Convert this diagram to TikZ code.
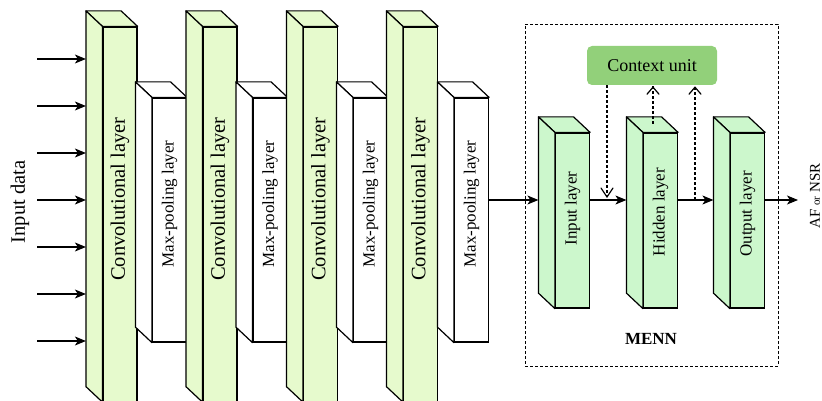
\documentclass[tikz,border=0pt]{standalone}
\usepackage{fontspec}
\setmainfont{Liberation Serif}
\usepackage{graphicx}
\usetikzlibrary{arrows.meta}
\definecolor{convgreen}{HTML}{E6FACD}
\definecolor{laygreen}{HTML}{CCF7CC}
\definecolor{ctxgreen}{HTML}{92D07A}
\tikzset{
  face/.style={draw=black, line width=1.2pt, inner sep=0pt, minimum width=34pt},
  convface/.style={face, fill=convgreen, minimum height=374.5pt},
  poolface/.style={face, fill=white, minimum height=244pt},
  layface/.style={face, fill=laygreen, minimum height=175pt},
  side/.style={draw=black, line width=1.2pt, line join=round},
  vtext/.style={rotate=90, inner sep=0pt},
  convtext/.style={vtext, font=\fontsize{20.5}{24}\selectfont},
  pooltext/.style={vtext, font=\fontsize{17}{20}\selectfont},
  laytext/.style={vtext, font=\fontsize{17}{20}\selectfont},
  arr/.style={line width=1.1pt, -{Stealth[length=11pt,width=9pt,inset=3pt]}},
  dline/.style={line width=1.2pt, dash pattern=on 3pt off 2pt},
  barb/.style={line width=1.2pt, solid, line cap=round, line join=miter},
}
\newcommand{\boxsides}[2]{%
  \filldraw[side, fill=#2] (#1.north west) -- ([shift={(-16.5,-15.5)}]#1.north west) -- ([shift={(-16.5,-15.5)}]#1.north east) -- (#1.north east) -- cycle;
  \filldraw[side, fill=#2] (#1.north west) -- ([shift={(-16.5,-15.5)}]#1.north west) -- ([shift={(-16.5,-15.5)}]#1.south west) -- (#1.south west) -- cycle;
  \coordinate (#1back) at ([xshift=-16.5pt]#1.west);
}
\begin{document}
\begin{tikzpicture}[x=1pt,y=-1pt]
\useasboundingbox (0,0) rectangle (822,401);
% CNN part
\node[convface] (c1) at (120,214.25) {};
\boxsides{c1}{convgreen}
\node[convtext] (ct1) at (120,199) {Convolutional layer};
\node[poolface] (p1) at (169.5,220) {};
\boxsides{p1}{white}
\node[pooltext] (pt1) at (169.5,204) {Max-pooling layer};
\node[convface] (c2) at (220,214.25) {};
\boxsides{c2}{convgreen}
\node[convtext] (ct2) at (220,199) {Convolutional layer};
\node[poolface] (p2) at (270,220) {};
\boxsides{p2}{white}
\node[pooltext] (pt2) at (270,204) {Max-pooling layer};
\node[convface] (c3) at (320.5,214.25) {};
\boxsides{c3}{convgreen}
\node[convtext] (ct3) at (320.5,199) {Convolutional layer};
\node[poolface] (p3) at (370.5,220) {};
\boxsides{p3}{white}
\node[pooltext] (pt3) at (370.5,204) {Max-pooling layer};
\node[convface] (c4) at (420.5,214.25) {};
\boxsides{c4}{convgreen}
\node[convtext] (ct4) at (420.5,199) {Convolutional layer};
\node[poolface] (p4) at (471.5,220) {};
\boxsides{p4}{white}
\node[pooltext] (pt4) at (471.5,204) {Max-pooling layer};
% input arrows
\node[vtext, font=\fontsize{20.5}{24}\selectfont] (indata) at (20,202) {Input data};
\foreach \i/\y in {1/59,2/106,3/153,4/200,5/247,6/294,7/341}{
  \coordinate (in\i) at (37,\y);
  \draw[arr] (in\i) -- (in\i -| c1back);
}
% MENN
\node[draw, line width=0.9pt, dash pattern=on 3pt off 2pt, minimum width=253pt, minimum height=342pt, inner sep=0pt] (mennbox) at (651.5,195) {};
\node[font=\bfseries\fontsize{17}{20}\selectfont] (menn) at (651,339) {MENN};
\node[fill=ctxgreen, rounded corners=5pt, minimum width=130pt, minimum height=39pt, inner sep=0pt, font=\fontsize{18}{22}\selectfont] (ctx) at (652,65.5) {Context unit};
\node[layface] (il) at (572.5,220.5) {};
\boxsides{il}{laygreen}
\node[laytext] (ilt) at (572.5,208.5) {Input layer};
\node[layface] (hl) at (660.5,220.5) {};
\boxsides{hl}{laygreen}
\node[laytext] (hlt) at (660.5,212) {Hidden layer};
\node[layface] (ol) at (747.5,220.5) {};
\boxsides{ol}{laygreen}
\node[laytext] (olt) at (747.5,214) {Output layer};
% main arrows
\coordinate (lvl) at (0,200);
\coordinate (outend) at (798,200);
\draw[arr] (lvl -| p4.east) -- (lvl -| ilback);
\draw[arr] (lvl -| il.east) -- (lvl -| hlback);
\draw[arr] (lvl -| hl.east) -- (lvl -| olback);
\draw[arr] (lvl -| ol.east) -- (outend);
\node[vtext, font=\fontsize{15}{18}\selectfont] (out) at (815,196) {AF {\fontsize{11}{13}\selectfont or} NSR};
% dashed context arrows
\coordinate (d1) at (607,197);
\coordinate (s1) at (d1 |- ctx.south);
\coordinate (d2) at (653,124);
\coordinate (e2) at (d2 |- ctx.south);
\coordinate (d3) at (695,200);
\coordinate (e3) at (d3 |- ctx.south);
\draw[dline] (s1) -- (d1);
\draw[barb] ([shift={(-6,-9)}]d1) -- (d1) -- ([shift={(6,-9)}]d1);
\draw[dline] (d2) -- (e2);
\draw[barb] ([shift={(-6,9)}]e2) -- ([yshift=-2pt]e2) -- ([shift={(6,9)}]e2);
\draw[dline] (d3) -- (e3);
\draw[barb] ([shift={(-6,9)}]e3) -- ([yshift=-2pt]e3) -- ([shift={(6,9)}]e3);
\end{tikzpicture}
\end{document}
